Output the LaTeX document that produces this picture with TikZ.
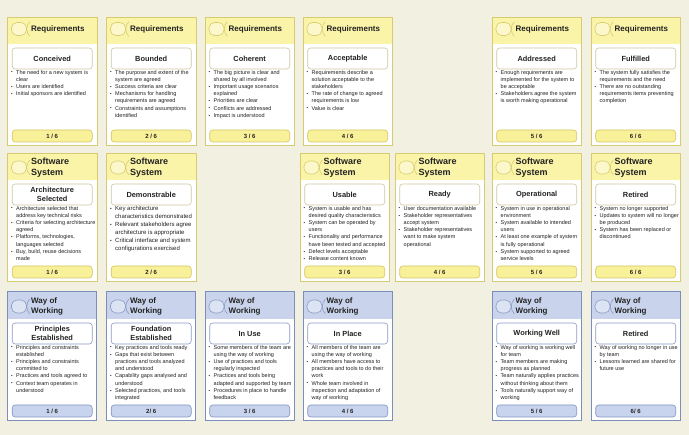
\documentclass[tikz,border=0pt]{standalone}
\usepackage{fontspec}
\setmainfont{Liberation Sans}
\definecolor{bg}{HTML}{F2F0E1}
\definecolor{txt}{HTML}{222222}
\definecolor{cY}{HTML}{D6CB72}
\definecolor{hY}{HTML}{FAF4A8}
\definecolor{fY}{HTML}{F9F09A}
\definecolor{fbY}{HTML}{D4C766}
\definecolor{nY}{HTML}{CFC7A0}
\definecolor{iY}{HTML}{D8CC70}
\definecolor{cB}{HTML}{7C8EBB}
\definecolor{hB}{HTML}{C9D4EC}
\definecolor{fB}{HTML}{C8D4EE}
\definecolor{fbB}{HTML}{8294C2}
\definecolor{nB}{HTML}{8A9BC5}
\definecolor{iB}{HTML}{8A9BC5}
\definecolor{iiB}{HTML}{DCE3F3}
\tikzset{
  cardY/.style={fill=white, draw=none, minimum width=89pt, minimum height=128pt, inner sep=0pt, anchor=north west},
  cardB/.style={cardY},
  hdrY/.style={fill=hY, draw=none, minimum width=89pt, minimum height=27pt, inner sep=0pt},
  hdrB/.style={fill=hB, draw=none, minimum width=89pt, minimum height=27pt, inner sep=0pt},
  cardlineY/.style={draw=cY, line width=0.8pt},
  cardlineB/.style={draw=cB, line width=1pt},
  iconY/.style={draw=iY, fill=hY!60!white, line width=0.6pt, rounded corners=5.5pt, minimum width=15pt, minimum height=13pt, inner sep=0pt},
  iconB/.style={draw=iB, fill=iiB, line width=0.6pt, rounded corners=5.5pt, minimum width=15pt, minimum height=13pt, inner sep=0pt},
  iconlineY/.style={draw=iY, line width=0.6pt},
  iconlineB/.style={draw=iB, line width=0.6pt},
  headtext/.style={font=\bfseries\fontsize{8}{10.5}\selectfont, align=left, inner sep=0pt, text=txt, anchor=west},
  headbig/.style={headtext, font=\bfseries\fontsize{9}{10.5}\selectfont},
  nameY/.style={draw=nY, fill=white, line width=0.6pt, rounded corners=3pt, minimum width=80pt, minimum height=21pt, inner sep=0pt, align=center, font=\bfseries\fontsize{7.4}{9}\selectfont, text=txt},
  nameB/.style={nameY, draw=nB},
  footY/.style={draw=fbY, fill=fY, line width=0.6pt, rounded corners=3pt, minimum width=80pt, minimum height=12pt, inner sep=0pt, font=\bfseries\fontsize{6}{7}\selectfont, text=txt},
  footB/.style={footY, draw=fbB, fill=fB},
  bsmall/.style={font=\fontsize{5.5}{7.2}\selectfont, align=left, inner sep=0pt, text=txt},
  bbig/.style={font=\fontsize{6}{8}\selectfont, align=left, inner sep=0pt, text=txt}
}
\newcommand\bu{\makebox[5pt][l]{\raisebox{0.3pt}{\scalebox{0.8}{\textbullet}}}}
\newcommand\ct{\hspace*{5pt}}
% #1 name, #2 pos, #3 scheme, #4 header (with style), #5 header y offset, #6 state, #7 bullets, #8 footer, #9 bullet style
\newcommand\card[9]{%
  \node[card#3] (#1) at #2 {};
  \node[hdr#3, anchor=north west] (#1h) at (#1.north west) {};
  \draw[cardline#3] (#1.north west) rectangle (#1.south east);
  \node[icon#3] (#1i) at ([xshift=11.5pt,yshift=-#5pt]#1.north west) {};
  \draw[iconline#3] ([xshift=3pt,yshift=0.5pt]#1i.north east) .. controls ([xshift=-1pt,yshift=-3pt]#1i.north east) and ([xshift=-1pt,yshift=3pt]#1i.south east) .. ([xshift=3pt,yshift=-0.5pt]#1i.south east);
  \node[#4] (#1t) at ([xshift=23.5pt,yshift=-#5pt]#1.north west) {\csname hdr@#3@#1\endcsname};
  \node[name#3] (#1n) at ([yshift=-41.5pt]#1.north) {#6};
  \node[#9, anchor=north west] (#1b) at ([xshift=3.5pt,yshift=-53pt]#1.north west) {#7};
  \node[foot#3] (#1f) at ([yshift=-119pt]#1.north) {#8};
}
\newcommand\reqcard[5]{\expandafter\def\csname hdr@Y@#1\endcsname{Requirements}\card{#1}{(#2,17)}{Y}{headtext}{12}{#3}{#4}{#5}{bsmall}}
\newcommand\sscard[6]{\expandafter\def\csname hdr@Y@#1\endcsname{Software\\System}\card{#1}{(#2,153)}{Y}{headbig}{14.5}{#3}{#4}{#5}{#6}}
\newcommand\wowcard[5]{\expandafter\def\csname hdr@B@#1\endcsname{Way of\\Working}\card{#1}{(#2,292)}{B}{headtext}{14.5}{#3}{#4}{#5}{bsmall}}
\begin{document}
\begin{tikzpicture}[x=1pt,y=-1pt]
\fill[bg] (0,0) rectangle (689,435);
\useasboundingbox (0,0) rectangle (689,435);
% Requirements
\reqcard{r1}{7.5}{Conceived}{\bu The need for a new system is\\\ct clear\\\bu Users are identified\\\bu Initial sponsors are identified}{1 / 6}
\reqcard{r2}{106.5}{Bounded}{\bu The purpose and extent of the\\\ct system are agreed\\\bu Success criteria are clear\\\bu Mechanisms for handling\\\ct requirements are agreed\\\bu Constraints and assumptions\\\ct identified}{2 / 6}
\reqcard{r3}{205}{Coherent}{\bu The big picture is clear and\\\ct shared by all involved\\\bu Important usage scenarios\\\ct explained\\\bu Priorities are clear\\\bu Conflicts are addressed\\\bu Impact is understood}{3 / 6}
\reqcard{r4}{303}{Acceptable}{\bu Requirements describe a\\\ct solution acceptable to the\\\ct stakeholders\\\bu The rate of change to agreed\\\ct requirements is low\\\bu Value is clear}{4 / 6}
\reqcard{r5}{492}{Addressed}{\bu Enough requirements are\\\ct implemented for the system to\\\ct be acceptable\\\bu Stakeholders agree the system\\\ct is worth making operational}{5 / 6}
\reqcard{r6}{591}{Fulfilled}{\bu The system fully satisfies the\\\ct requirements and the need\\\bu There are no outstanding\\\ct requirements items preventing\\\ct completion}{6 / 6}
% Software System
\sscard{s1}{7.5}{Architecture\\Selected}{\bu Architecture selected that\\\ct address key technical risks\\\bu Criteria for selecting architecture\\\ct agreed\\\bu Platforms, technologies,\\\ct languages selected\\\bu Buy, build, reuse decisions\\\ct made}{1 / 6}{bsmall}
\sscard{s2}{106.5}{Demonstrable}{\bu Key architecture\\\ct characteristics demonstrated\\\bu Relevant stakeholders agree\\\ct architecture is appropriate\\\bu Critical interface and system\\\ct configurations exercised}{2 / 6}{bbig}
\sscard{s3}{300}{Usable}{\bu System is usable and has\\\ct desired quality characteristics\\\bu System can be operated by\\\ct users\\\bu Functionality and performance\\\ct have been tested and accepted\\\bu Defect levels acceptable\\\bu Release content known}{3 / 6}{bsmall}
\sscard{s4}{395}{Ready}{\bu User documentation available\\\bu Stakeholder representatives\\\ct accept system\\\bu Stakeholder representatives\\\ct want to make system\\\ct operational}{4 / 6}{bsmall}
\sscard{s5}{492}{Operational}{\bu System in use in operational\\\ct environment\\\bu System available to intended\\\ct users\\\bu At least one example of system\\\ct is fully operational\\\bu System supported to agreed\\\ct service levels}{5 / 6}{bsmall}
\sscard{s6}{591}{Retired}{\bu System no longer supported\\\bu Updates to system will no longer\\\ct be produced\\\bu System has been replaced or\\\ct discontinued}{6 / 6}{bsmall}
% Way of Working
\wowcard{w1}{7.5}{Principles\\Established}{\bu Principles and constraints\\\ct established\\\bu Principles and constraints\\\ct committed to\\\bu Practices and tools agreed to\\\bu Context team operates in\\\ct understood}{1 / 6}
\wowcard{w2}{106.5}{Foundation\\Established}{\bu Key practices and tools ready\\\bu Gaps that exist between\\\ct practices and tools analyzed\\\ct and understood\\\bu Capability gaps analysed and\\\ct understood\\\bu Selected practices, and tools\\\ct integrated}{2/ 6}
\wowcard{w3}{205}{In Use}{\bu Some members of the team are\\\ct using the way of working\\\bu Use of practices and tools\\\ct regularly inspected\\\bu Practices and tools being\\\ct adapted and supported by team\\\bu Procedures in place to handle\\\ct feedback}{3 / 6}
\wowcard{w4}{303}{In Place}{\bu All members of the team are\\\ct using the way of working\\\bu All members have access to\\\ct practices and tools to do their\\\ct work\\\bu Whole team involved in\\\ct inspection and adaptation of\\\ct way of working}{4 / 6}
\wowcard{w5}{492}{Working Well}{\bu Way of working is working well\\\ct for team\\\bu Team members are making\\\ct progress as planned\\\bu Team naturally applies practices\\\ct without thinking about them\\\bu Tools naturally support way of\\\ct working}{5 / 6}
\wowcard{w6}{591}{Retired}{\bu Way of working no longer in use\\\ct by team\\\bu Lessons learned are shared for\\\ct future use}{6/ 6}
\end{tikzpicture}
\end{document}
